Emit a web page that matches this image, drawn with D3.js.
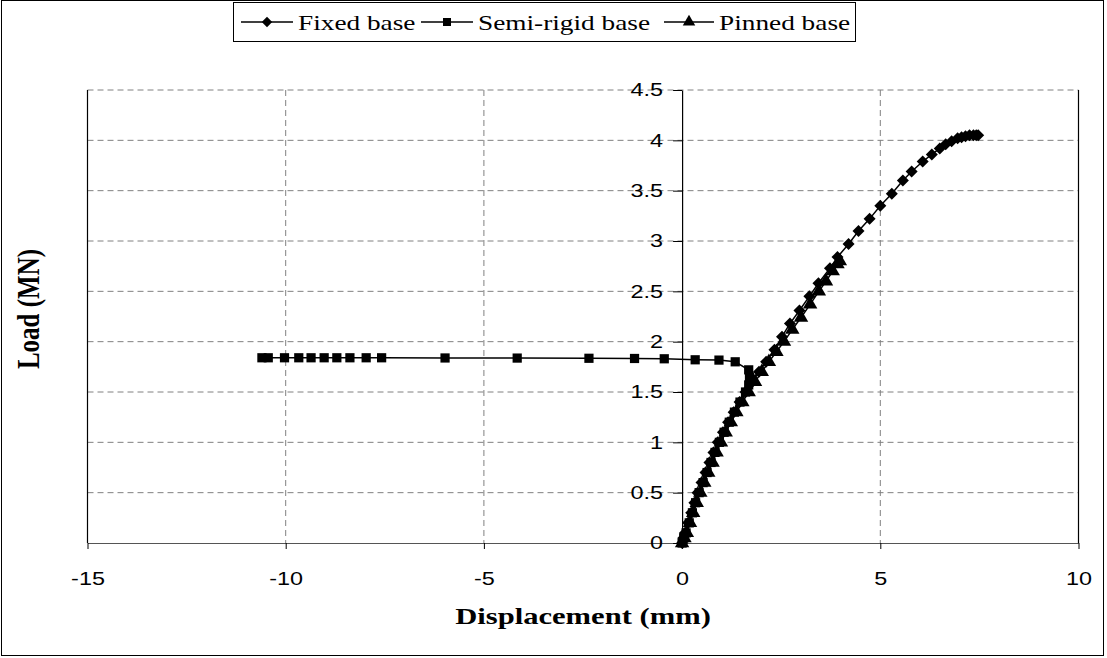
<!DOCTYPE html>
<html><head><meta charset="utf-8">
<script src="https://cdn.jsdelivr.net/npm/d3@7"></script>
<style>body{margin:0;background:#fff}</style>
</head><body>
<svg id="c" width="1107" height="658"></svg>
<script>
// ---- data ----
const seriesNames = ["Fixed base", "Semi-rigid base", "Pinned base"];
const fixedX = [0, 0.03, 0.07, 0.15, 0.23, 0.31, 0.39, 0.49, 0.59, 0.69, 0.79, 0.9, 1.03, 1.16, 1.3, 1.45, 1.6, 1.77, 1.94, 2.12, 2.33, 2.52, 2.72, 2.96, 3.21, 3.44, 3.73, 3.92, 4.2, 4.45, 4.73, 5.0, 5.29, 5.57, 5.79, 6.07, 6.3, 6.5, 6.65, 6.8, 6.95, 7.05, 7.15, 7.25, 7.35, 7.42, 7.47];
const fixedY = [0, 0.05, 0.1, 0.2, 0.3, 0.4, 0.5, 0.6, 0.7, 0.8, 0.9, 1.0, 1.1, 1.2, 1.3, 1.4, 1.5, 1.6, 1.7, 1.8, 1.92, 2.05, 2.18, 2.31, 2.45, 2.58, 2.73, 2.84, 2.97, 3.1, 3.22, 3.35, 3.47, 3.6, 3.69, 3.79, 3.86, 3.92, 3.96, 3.99, 4.02, 4.03, 4.04, 4.05, 4.05, 4.05, 4.05];
const semiX = [0, 0.04, 0.1, 0.18, 0.26, 0.34, 0.43, 0.53, 0.63, 0.73, 0.83, 0.94, 1.06, 1.19, 1.32, 1.46, 1.6, 1.68, 1.7, 1.68, 1.34, 0.93, 0.33, -0.45, -1.2, -2.35, -4.16, -5.98, -7.58, -7.97, -8.38, -8.71, -9.03, -9.36, -9.67, -10.03, -10.44, -10.6];
const semiY = [0, 0.05, 0.1, 0.2, 0.3, 0.4, 0.5, 0.6, 0.7, 0.8, 0.9, 1.0, 1.1, 1.2, 1.3, 1.4, 1.5, 1.57, 1.65, 1.72, 1.8, 1.817, 1.82, 1.83, 1.833, 1.835, 1.837, 1.838, 1.84, 1.84, 1.84, 1.84, 1.84, 1.84, 1.84, 1.84, 1.84, 1.84];
const pinnedX = [0, 0.06, 0.12, 0.2, 0.28, 0.37, 0.46, 0.56, 0.66, 0.77, 0.87, 0.98, 1.1, 1.23, 1.37, 1.52, 1.68, 1.84, 2.01, 2.19, 2.38, 2.57, 2.78, 3.0, 3.23, 3.45, 3.63, 3.8, 3.92, 3.98];
const pinnedY = [0, 0.05, 0.1, 0.2, 0.3, 0.4, 0.5, 0.6, 0.7, 0.8, 0.9, 1.0, 1.1, 1.2, 1.3, 1.4, 1.5, 1.6, 1.7, 1.8, 1.9, 2.0, 2.12, 2.24, 2.37, 2.5, 2.6, 2.7, 2.77, 2.8];
const xTicks = [-15, -10, -5, 0, 5, 10];
const yTicks = [0, 0.5, 1, 1.5, 2, 2.5, 3, 3.5, 4, 4.5];
const xTitle = "Displacement (mm)";
const yTitle = "Load (MN)";

// ---- layout ----
const L = 87.5, R = 1078.5, T = 90, B = 543;
const SX = 1.3; // horizontal glyph stretch seen in the reference
const sans = "Liberation Sans, Arial, sans-serif";
const serif = "Liberation Serif, Times New Roman, serif";
const svg = d3.select("#c");
const x = d3.scaleLinear().domain([-15, 10]).range([L, R]);
const y = d3.scaleLinear().domain([0, 4.5]).range([B, T]);

svg.append("rect").attr("x", 1.5).attr("y", 0.5).attr("width", 1102).attr("height", 655)
  .attr("fill", "#fff").attr("stroke", "#000").attr("stroke-width", 1);

// gridlines
const g = svg.append("g");
g.selectAll("line.hg").data(yTicks.filter(d => d > 0)).join("line")
  .attr("x1", L).attr("x2", R).attr("y1", d => y(d)).attr("y2", d => y(d))
  .attr("stroke", "#808080").attr("stroke-width", 1).attr("stroke-dasharray", "6,4");
g.selectAll("line.vg").data(xTicks.filter(d => d !== 0 && d !== -15 && d !== 10)).join("line")
  .attr("y1", T).attr("y2", B).attr("x1", d => x(d)).attr("x2", d => x(d))
  .attr("stroke", "#808080").attr("stroke-width", 1).attr("stroke-dasharray", "6,4");
// side borders
[-15, 10].forEach(v => svg.append("line").attr("x1", x(v)).attr("x2", x(v)).attr("y1", T).attr("y2", B)
  .attr("stroke", "#000").attr("stroke-width", 1.2));

// x axis
const xAxis = d3.axisBottom(x).tickValues(xTicks).tickSize(6).tickSizeOuter(0).tickPadding(23).tickFormat(d => String(d));
const xg = svg.append("g").attr("transform", `translate(0,${y(0)})`).call(xAxis);
xg.select(".domain").attr("stroke", "#555").attr("stroke-width", 1.2);
xg.selectAll(".tick line").attr("stroke", "#000");
xg.selectAll("text").attr("font-family", sans).attr("font-size", 18).attr("fill", "#000")
  .attr("transform", `scale(${SX},1)`);

// y axis at x=0
const yAxis = d3.axisLeft(y).tickValues(yTicks).tickSize(9).tickSizeOuter(0).tickPadding(11).tickFormat(d => String(d));
const yg = svg.append("g").attr("transform", `translate(${x(0)},0)`).call(yAxis);
yg.select(".domain").attr("stroke", "#000").attr("stroke-width", 1.2);
yg.selectAll("text").attr("font-family", sans).attr("font-size", 18).attr("fill", "#000")
  .attr("x", -19 / SX).attr("transform", `scale(${SX},1)`);

// titles
svg.append("text").attr("transform", `translate(${(L + R) / 2},624) scale(1.36,1)`).attr("text-anchor", "middle")
  .attr("font-family", serif).attr("font-weight", "bold").attr("font-size", 22.5)
  .text(xTitle);
svg.append("text").attr("transform", `translate(39,309) scale(1.3,1) rotate(-90)`).attr("text-anchor", "middle")
  .attr("font-family", serif).attr("font-weight", "bold").attr("font-size", 25)
  .text(yTitle);

// series
const symbols = [
  {type: d3.symbolSquare, size: 72, rot: 45},
  {type: d3.symbolSquare, size: 85, rot: 0},
  {type: d3.symbolTriangle, size: 90, rot: 0}
];
const series = [
  {name: seriesNames[0], xs: fixedX, ys: fixedY, sym: symbols[0]},
  {name: seriesNames[1], xs: semiX, ys: semiY, sym: symbols[1]},
  {name: seriesNames[2], xs: pinnedX, ys: pinnedY, sym: symbols[2]}
];
const line = d3.line().x(d => x(d[0])).y(d => y(d[1]));
series.slice().reverse().forEach(s => {
  const pts = s.xs.map((v, i) => [v, s.ys[i]]);
  svg.append("path").datum(pts).attr("d", line).attr("fill", "none").attr("stroke", "#000").attr("stroke-width", 1.5);
  svg.append("g").selectAll("path").data(pts).join("path")
    .attr("d", d3.symbol().type(s.sym.type).size(s.sym.size))
    .attr("transform", d => `translate(${x(d[0])},${y(d[1])}) rotate(${s.sym.rot})`)
    .attr("fill", "#000");
});

// legend
const lg = svg.append("g");
lg.append("rect").attr("x", 233.5).attr("y", 2.5).attr("width", 622).attr("height", 39)
  .attr("fill", "#fff").attr("stroke", "#000").attr("stroke-width", 1);
const legendPos = [{x1: 241, x2: 293, tx: 298}, {x1: 421, x2: 473, tx: 478}, {x1: 664, x2: 714, tx: 719}];
series.forEach((s, i) => {
  const p = legendPos[i];
  lg.append("line").attr("x1", p.x1).attr("x2", p.x2).attr("y1", 22).attr("y2", 22).attr("stroke", "#000").attr("stroke-width", 1.5);
  lg.append("path").attr("d", d3.symbol().type(s.sym.type).size(s.sym.size * 0.75))
    .attr("transform", `translate(${(p.x1 + p.x2) / 2},22) rotate(${s.sym.rot})`).attr("fill", "#000");
  lg.append("text").attr("transform", `translate(${p.tx},30) scale(${SX},1)`).attr("font-family", serif)
    .attr("font-size", 21).text(s.name);
});
</script>
</body></html>
